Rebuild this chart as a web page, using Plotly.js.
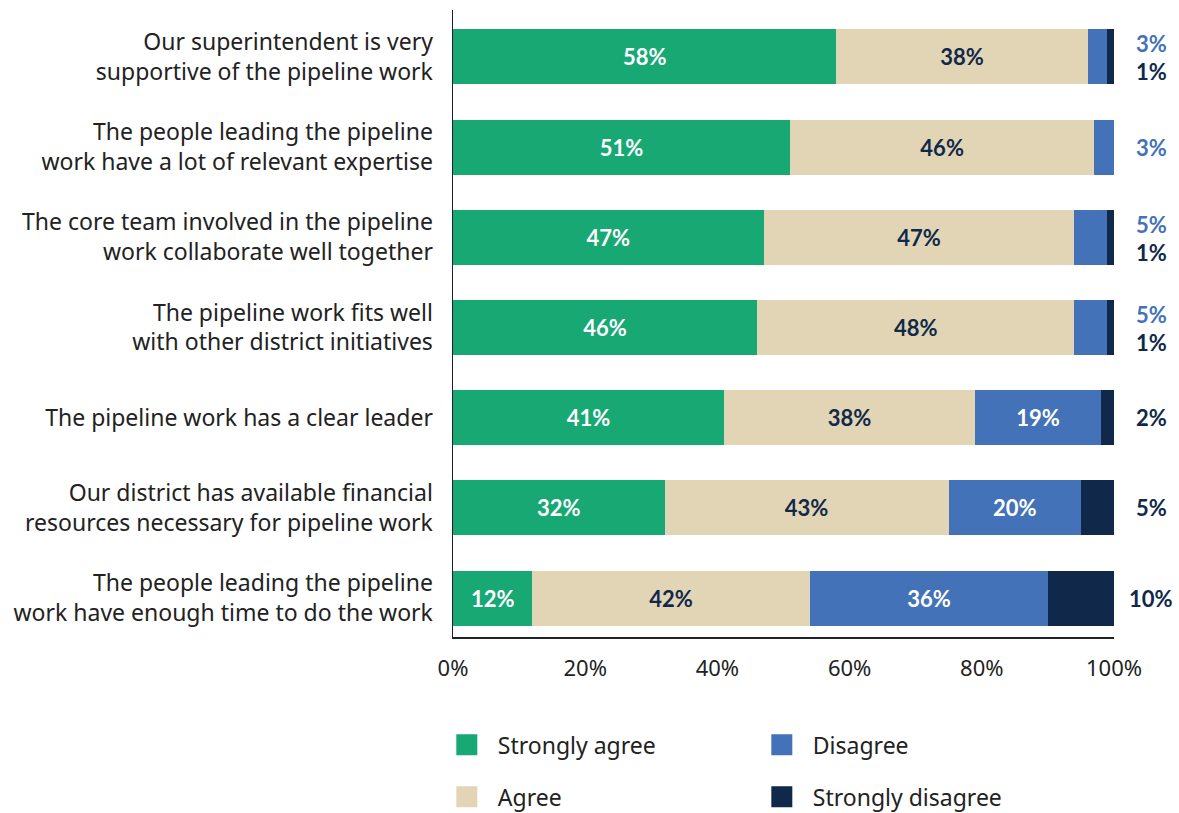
<!DOCTYPE html>
<html><head><meta charset="utf-8">
<script src="https://cdn.plot.ly/plotly-3.0.1.min.js"></script>
<style>html,body{margin:0;padding:0;background:#fff}#chart{width:1179px;height:813px}</style>
</head><body><div id="chart"></div>
<script>
const categories = [
  "Our superintendent is very<br>supportive of the pipeline work",
  "The people leading the pipeline<br>work have a lot of relevant expertise",
  "The core team involved in the pipeline<br>work collaborate well together",
  "The pipeline work fits well<br>with other district initiatives",
  "The pipeline work has a clear leader",
  "Our district has available financial<br>resources necessary for pipeline work",
  "The people leading the pipeline<br>work have enough time to do the work"
];
const strongAgree    = [58, 51, 47, 46, 41, 32, 12];
const agree          = [38, 46, 47, 48, 38, 43, 42];
const disagree       = [3, 3, 5, 5, 19, 20, 36];
const strongDisagree = [1, 0, 1, 1, 2, 5, 10];
const seriesNames = ["Strongly agree", "Agree", "Disagree", "Strongly disagree"];
const tickVals = [0, 20, 40, 60, 80, 100];

const colors = ["#17A874", "#E1D5B5", "#4472B8", "#10294A"];
const labelColors = ["#ffffff", "#10294A", "#ffffff", "#ffffff"];
const outsideColors = {disagree: "#4472B8", strong: "#10294A"};
const FONT = "Noto Sans, sans-serif";
const BFONT = "Lato, sans-serif";
const insideMin = 10;

const series = [strongAgree, agree, disagree, strongDisagree];
const traces = series.map((vals, i) => ({
  type: "bar", orientation: "h", name: seriesNames[i],
  x: vals, y: categories,
  marker: {color: colors[i], line: {width: 0}},
  text: vals.map(v => (i < 3 && v >= insideMin) ? v + "%" : ""),
  texttemplate: "%{text}",
  textposition: "inside", insidetextanchor: "middle",
  textfont: {family: BFONT, size: 22, color: labelColors[i], weight: 700},
  hoverinfo: "skip", showlegend: false
}));

// legend proxies (bigger square symbols)
const legendRanks = [1, 3, 2, 4];
const legendGroups = ["legend", "legend2", "legend", "legend2"];
seriesNames.forEach((n, i) => {
  traces.push({
    type: "scatter", mode: "markers", name: n, x: [null], y: [null],
    marker: {symbol: "square", size: 16, color: colors[i], line: {color: colors[i], width: 5}},
    legend: legendGroups[i], legendrank: legendRanks[i], hoverinfo: "skip", showlegend: true
  });
});

// outside labels
const annotations = [];
categories.forEach((c, k) => {
  const dOut = disagree[k] > 0 && disagree[k] < insideMin;
  const sOut = strongDisagree[k] > 0;
  const both = dOut && sOut;
  if (dOut) annotations.push({x: 100, y: c, xref: "x", yref: "y", text: disagree[k] + "%",
    showarrow: false, xanchor: "center", xshift: 37, yshift: both ? 13 : 0,
    font: {family: BFONT, size: 22, color: outsideColors.disagree, weight: 700}});
  if (sOut) annotations.push({x: 100, y: c, xref: "x", yref: "y", text: strongDisagree[k] + "%",
    showarrow: false, xanchor: "center", xshift: 37, yshift: both ? -15 : 0,
    font: {family: BFONT, size: 22, color: outsideColors.strong, weight: 700}});
});

const legendCommon = {orientation: "h", xanchor: "left", yanchor: "middle",
  entrywidth: 248, itemwidth: 52, font: {family: FONT, size: 23, color: "#222"}, traceorder: "normal"};

const layout = {
  width: 1179, height: 813,
  margin: {l: 453, r: 65, t: 10, b: 176, autoexpand: false},
  paper_bgcolor: "#fff", plot_bgcolor: "#fff",
  barmode: "stack", bargap: 0.39,
  font: {family: FONT, color: "#222", size: 20},
  xaxis: {range: [0, 100], tickvals: tickVals, ticktext: tickVals.map(v => v + "%"),
    showgrid: false, zeroline: false, showline: true, linecolor: "#222", linewidth: 1.5,
    ticks: "", ticklabelstandoff: 11, tickfont: {family: FONT, size: 22, color: "#222"}, fixedrange: true},
  yaxis: {range: [6.432, -0.521], showgrid: false, zeroline: false, showline: true,
    linecolor: "#222", linewidth: 1.5, ticks: "", ticklabelstandoff: 14,
    tickfont: {family: FONT, size: 23, color: "#222"}, fixedrange: true},
  legend: Object.assign({x: -0.026, y: -0.172}, legendCommon),
  legend2: Object.assign({x: -0.026, y: -0.255}, legendCommon),
  annotations: annotations
};

Plotly.newPlot("chart", traces, layout, {displayModeBar: false, staticPlot: true});
</script></body></html>
